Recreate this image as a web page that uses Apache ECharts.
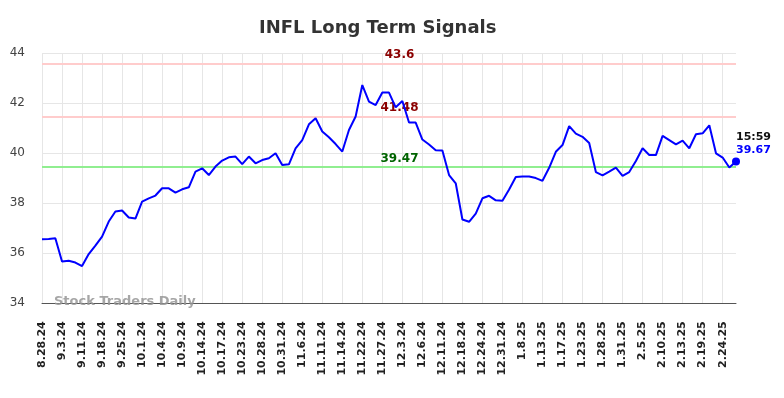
<!DOCTYPE html>
<html>
<head>
<meta charset="utf-8">
<script src="https://cdn.jsdelivr.net/npm/echarts@6/dist/echarts.min.js"></script>
<style>
html,body{margin:0;padding:0;background:#fff;}
#chart{width:784px;height:398px;}
</style>
</head>
<body>
<div id="chart"></div>
<script>
const titleText = 'INFL Long Term Signals';
const watermark = 'Stock Traders Daily';
const lastTime = '15:59';
const dates = [
 '8.28.24','8.29.24','8.30.24','9.3.24','9.5.24','9.9.24','9.11.24','9.13.24','9.16.24',
 '9.18.24','9.20.24','9.23.24','9.25.24','9.26.24','9.30.24','10.1.24','10.2.24','10.3.24',
 '10.4.24','10.7.24','10.8.24','10.9.24','10.10.24','10.11.24','10.14.24','10.15.24','10.16.24',
 '10.17.24','10.21.24','10.22.24','10.23.24','10.24.24','10.25.24','10.28.24','10.29.24','10.30.24',
 '10.31.24','11.4.24','11.5.24','11.6.24','11.7.24','11.8.24','11.11.24','11.12.24','11.13.24',
 '11.14.24','11.19.24','11.21.24','11.22.24','11.25.24','11.26.24','11.27.24','11.29.24','12.2.24',
 '12.3.24','12.4.24','12.5.24','12.6.24','12.9.24','12.10.24','12.11.24','12.13.24','12.17.24',
 '12.18.24','12.19.24','12.20.24','12.24.24','12.26.24','12.27.24','12.31.24','1.2.25','1.6.25',
 '1.8.25','1.9.25','1.10.25','1.13.25','1.15.25','1.16.25','1.17.25','1.21.25','1.22.25',
 '1.23.25','1.24.25','1.27.25','1.28.25','1.29.25','1.30.25','1.31.25','2.3.25','2.4.25',
 '2.5.25','2.6.25','2.7.25','2.10.25','2.11.25','2.12.25','2.13.25','2.14.25','2.18.25',
 '2.19.25','2.20.25','2.21.25','2.24.25','2.25.25','2.26.25'
];
const prices = [
 36.56,36.57,36.60,35.67,35.70,35.63,35.49,35.97,36.31,
 36.67,37.27,37.67,37.71,37.43,37.39,38.07,38.20,38.31,
 38.60,38.60,38.43,38.56,38.64,39.27,39.40,39.13,39.47,
 39.71,39.84,39.87,39.57,39.87,39.60,39.73,39.80,40.00,
 39.53,39.56,40.20,40.53,41.16,41.40,40.87,40.64,40.37,
 40.07,40.93,41.47,42.73,42.07,41.93,42.43,42.43,41.84,
 42.09,41.23,41.23,40.55,40.35,40.12,40.11,39.13,38.80,
 37.35,37.26,37.59,38.20,38.30,38.12,38.10,38.55,39.05,
 39.07,39.07,39.01,38.90,39.42,40.06,40.33,41.09,40.79,
 40.66,40.41,39.25,39.12,39.27,39.43,39.10,39.25,39.69,
 40.20,39.93,39.93,40.70,40.53,40.36,40.51,40.20,40.76,
 40.80,41.12,40.00,39.83,39.43,39.67
];
const resistanceHigh = 43.6;
const resistanceLow = 41.48;
const support = 39.47;
const yTicks = [34, 36, 38, 40, 42, 44];

const FONT = 'DejaVu Sans';
const chart = echarts.init(document.getElementById('chart'), null, {renderer: 'canvas'});
const lastIdx = prices.length - 1;

chart.setOption({
  animation: false,
  backgroundColor: '#ffffff',
  title: {
    text: titleText,
    left: 254,
    top: 14,
    textStyle: {fontFamily: FONT, fontSize: 18, fontWeight: 'bold', color: '#333333'}
  },
  grid: {left: 42, right: 48, top: 53.3, bottom: 94.7, containLabel: false},
  xAxis: {
    type: 'category',
    data: dates,
    boundaryGap: false,
    axisLine: {show: true, lineStyle: {color: '#555555', width: 1}},
    axisTick: {show: false},
    axisLabel: {
      interval: 2,
      rotate: 90,
      margin: 18,
      fontFamily: FONT,
      fontSize: 11,
      fontWeight: 'bold',
      color: '#222222'
    },
    splitLine: {show: true, interval: 2, lineStyle: {color: '#e6e6e6', width: 1}}
  },
  yAxis: {
    type: 'value',
    min: yTicks[0],
    max: yTicks[yTicks.length - 1],
    interval: 2,
    axisLine: {show: false},
    axisTick: {show: false},
    axisLabel: {margin: 17, fontFamily: FONT, fontSize: 12, color: '#444444'},
    splitLine: {show: true, lineStyle: {color: '#e6e6e6', width: 1}}
  },
  graphic: [{
    type: 'text',
    left: 54,
    top: 295,
    z: 100,
    style: {text: watermark, fontFamily: FONT, fontSize: 13, fontWeight: 'bold', fill: 'rgba(150,150,150,0.85)'}
  }],
  series: [{
    type: 'line',
    data: prices,
    showSymbol: false,
    symbol: 'none',
    lineStyle: {color: '#0000ff', width: 2},
    itemStyle: {color: '#0000ff'},
    z: 5,
    markLine: {
      silent: true,
      symbol: ['none', 'none'],
      animation: false,
      label: {
        show: true,
        position: 'insideMiddleTop',
        distance: 2,
        padding: [0, 0, 0, 21],
        fontFamily: FONT,
        fontSize: 12,
        fontWeight: 'bold',
        formatter: p => String(p.value)
      },
      data: [
        {yAxis: resistanceHigh, lineStyle: {color: '#ffcccc', width: 2, type: 'solid'}, label: {color: '#8b0000'}},
        {yAxis: resistanceLow, lineStyle: {color: '#ffcccc', width: 2, type: 'solid'}, label: {color: '#8b0000'}},
        {yAxis: support, lineStyle: {color: '#90ee90', width: 2, type: 'solid'}, label: {color: '#006400'}}
      ]
    },
    markPoint: {
      silent: true,
      animation: false,
      data: [{
        coord: [dates[lastIdx], prices[lastIdx]],
        symbol: 'circle',
        symbolSize: 8,
        itemStyle: {color: '#0000ff'},
        label: {
          show: true,
          position: [4, -27],
          align: 'left',
          verticalAlign: 'top',
          formatter: '{t|' + lastTime + '}\n{v|' + prices[lastIdx].toFixed(2) + '}',
          rich: {
            t: {fontFamily: FONT, fontSize: 11, fontWeight: 'bold', color: '#111111', lineHeight: 13},
            v: {fontFamily: FONT, fontSize: 11, fontWeight: 'bold', color: '#0000ff', lineHeight: 13}
          }
        }
      }]
    }
  }]
});
</script>
</body>
</html>
